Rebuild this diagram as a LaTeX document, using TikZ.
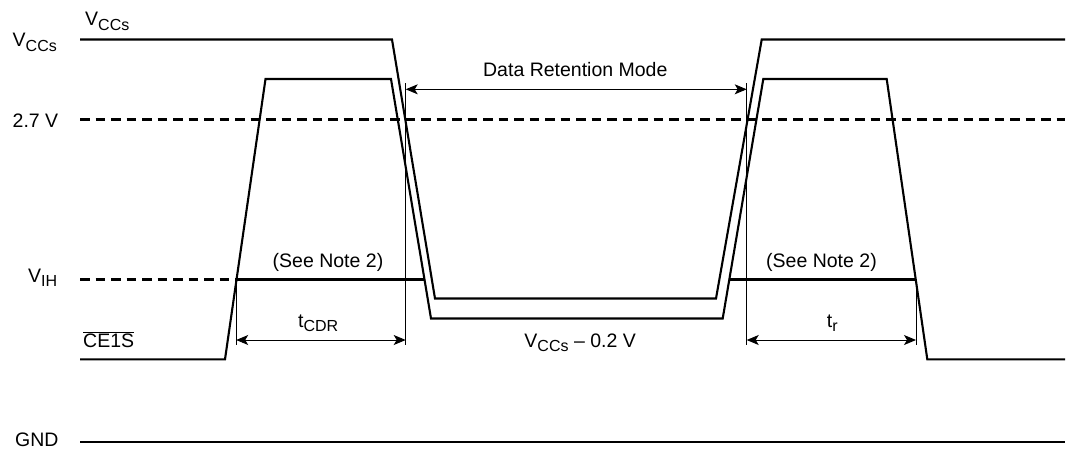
\documentclass[tikz,border=0pt]{standalone}
\usepackage{fontspec}
\setmainfont{Liberation Sans}
\usetikzlibrary{arrows.meta}
\newcommand\lsub[1]{\raisebox{-4.5pt}{\fontsize{16}{18}\selectfont #1}}
\begin{document}
\begin{tikzpicture}[x=1pt,y=-1pt,
  wave/.style={line width=2.1pt, line join=miter},
  dashline/.style={line width=2.4pt, dash pattern=on 9.5pt off 6pt},
  guide/.style={line width=0.9pt},
  dim/.style={line width=0.9pt, {Stealth[length=12pt,width=10pt,inset=3pt]}-{Stealth[length=12pt,width=10pt,inset=3pt]}},
  lbl/.style={font=\fontsize{19.5}{22}\selectfont, inner sep=0pt}]
\useasboundingbox (0,0) rectangle (1067,451);

% key coordinates
\coordinate (vs0) at (80,39.5);
\coordinate (vs1) at (392,39.5);
\coordinate (vs2) at (435,298.5);
\coordinate (vs3) at (716,298.5);
\coordinate (vs4) at (761.7,39.5);
\coordinate (vs5) at (1065,39.5);

\coordinate (ce0) at (80,359.3);
\coordinate (ce1) at (225,359.3);
\coordinate (ce2) at (265.5,79);
\coordinate (ce3) at (391,79);
\coordinate (ce4) at (431,318.5);
\coordinate (ce5) at (722.7,318.5);
\coordinate (ce6) at (763.3,79);
\coordinate (ce7) at (886.7,79);
\coordinate (ce8) at (927.3,359.3);
\coordinate (ce9) at (1065,359.3);

\coordinate (d0) at (80,119.5);
\coordinate (d1) at (1065,119.5);
\coordinate (g0) at (80,441.7);
\coordinate (g1) at (1065,441.7);

\coordinate (ih0) at (80,279.5);
\coordinate (ih1) at (236.2,279.5);
\coordinate (ih2) at (424,279.5);
\coordinate (ih3) at (729.3,279.5);
\coordinate (ih4) at (916,279.5);

\coordinate (ga) at (405.7,83);
\coordinate (gaB) at (405.7,345);
\coordinate (gb) at (746.7,83);
\coordinate (gbB) at (746.7,345);
\coordinate (gcB) at (236.2,345);
\coordinate (gdB) at (916,345);

\coordinate (ar1) at (405.7,89.3);
\coordinate (ar2) at (746.7,89.3);
\coordinate (tc1) at (236.2,340);
\coordinate (tc2) at (405.7,340);
\coordinate (tr1) at (746.7,340);
\coordinate (tr2) at (916,340);

% waveforms
\draw[wave] (vs0) -- (vs1) -- (vs2) -- (vs3) -- (vs4) -- (vs5);
\draw[wave] (ce0) -- (ce1) -- (ce2) -- (ce3) -- (ce4) -- (ce5) -- (ce6) -- (ce7) -- (ce8) -- (ce9);
\draw[dashline] (d0) -- (d1);
\draw[dashline] (ih0) -- (ih1);
\draw[wave] (ih1) -- (ih2);
\draw[wave] (ih3) -- (ih4);
\draw[wave] (g0) -- (g1);

% guides
\draw[guide] (ga) -- (gaB);
\draw[guide] (gb) -- (gbB);
\draw[guide] (ih1) -- (gcB);
\draw[guide] (ih4) -- (gdB);

% dimension arrows
\draw[dim] (ar1) -- (ar2);
\draw[dim] (tc1) -- (tc2);
\draw[dim] (tr1) -- (tr2);

% labels
\node[lbl, anchor=base west] (lvcc) at (12.5,46.7) {V\lsub{CCs}};
\node[lbl, anchor=base west] (tvcc) at (85,25.7) {V\lsub{CCs}};
\node[lbl, anchor=base west] (l27) at (12.5,127) {2.7 V};
\node[lbl, anchor=base west] (lvih) at (28,282) {V\lsub{IH}};
\node[lbl, anchor=base west] (lce) at (83,347) {$\overline{\mbox{CE1S}}$};
\node[lbl, anchor=base west] (lgnd) at (15,446.7) {GND};
\node[lbl, anchor=base] (ldrm) at (575.3,76) {Data Retention Mode};
\node[lbl, anchor=base] (ln1) at (328,267.5) {(See Note 2)};
\node[lbl, anchor=base] (ln2) at (821.5,267.5) {(See Note 2)};
\node[lbl, anchor=base west] (ltcdr) at (298,327) {t\lsub{CDR}};
\node[lbl, anchor=base west] (ltr) at (826.7,327) {t\lsub{r}};
\node[lbl, anchor=base east] (lvm) at (636,347) {V\lsub{CCs} \textendash{} 0.2 V};
\end{tikzpicture}
\end{document}
